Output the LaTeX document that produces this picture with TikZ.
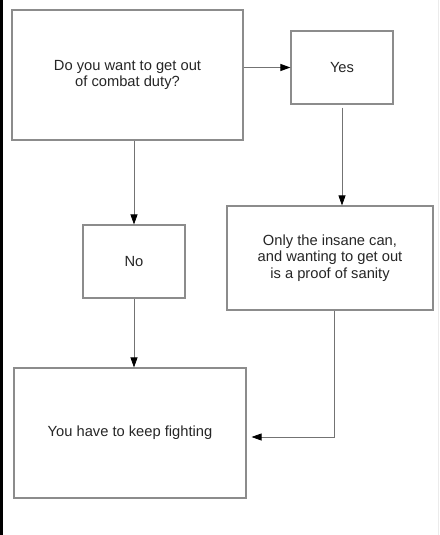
\documentclass[tikz,border=0pt]{standalone}
\usepackage{fontspec}
\setmainfont{Liberation Sans}
\usetikzlibrary{arrows.meta}

\tikzset{
    box/.style={draw=black!45, line width=1.1pt, fill=white, align=center,
        inner sep=0pt, font=\fontsize{14.7}{16.5}\selectfont, text=black!85},
    flow/.style={draw=black!55, line width=0.8pt,
        -{Triangle[length=10pt, width=7pt, color=black]}}
}

\begin{document}
\begin{tikzpicture}[x=1pt, y=-1pt]
    \useasboundingbox (0,0) rectangle (439,535);
    \fill [black] (0,0) rectangle (3,535);
    \draw [black!8, line width=1pt] (438,0) -- (438,535);

    \node [box, minimum width=231, minimum height=130] (ask) at (127.5,75)
        {Do you want to get out\\of combat duty?};
    \node [box, minimum width=102, minimum height=73] (yes) at (342,67.5) {Yes};
    \node [box, minimum width=102, minimum height=73] (no) at (134,261.5) {No};
    \node [box, minimum width=206, minimum height=104] (sane) at (330,258)
        {Only the insane can,\\and wanting to get out\\is a proof of sanity};
    \node [box, minimum width=232, minimum height=130] (fight) at (130,433)
        {You have to keep fighting};

    \draw [flow] (ask.east |- yes.west) -- (yes.west);
    \draw [flow, shorten <=3pt] (yes.south) -- (yes.south |- sane.north);
    \draw [flow] (ask.south -| no.north) -- (no.north);
    \draw [flow] (no.south) -- (no.south |- fight.north);
    \draw [flow, shorten >=5pt] ([xshift=4pt]sane.south) |- ([yshift=-4pt]fight.east);

\end{tikzpicture}
\end{document}
